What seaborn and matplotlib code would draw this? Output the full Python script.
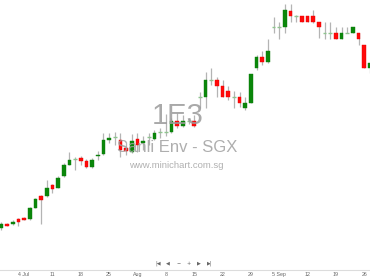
import numpy as np
import pandas as pd
import seaborn as sns
import matplotlib
matplotlib.use("Agg")
import matplotlib.pyplot as plt

# ---- data ----
dates = pd.bdate_range("2016-06-28", periods=66)
opens = [0.1117, 0.1160, 0.1160, 0.1207, 0.1220, 0.1207, 0.1323, 0.1437, 0.1440, 0.1547,
         0.1523, 0.1637, 0.1753, 0.1813, 0.1823, 0.1787, 0.1730, 0.1837, 0.1857, 0.2005,
         0.2027, 0.2005, 0.1917, 0.1877, 0.2010, 0.1970, 0.2027, 0.2013, 0.2083, 0.2083,
         0.2083, 0.2193, 0.2140, 0.2193, 0.2193, 0.2433, 0.2433, 0.2600, 0.2600, 0.2540,
         0.2487, 0.2427, 0.2427, 0.2317, 0.2367, 0.2720, 0.2833, 0.2780, 0.3127, 0.3127,
         0.3127, 0.3293, 0.3240, 0.3240, 0.3240, 0.3240, 0.3183, 0.3067, 0.3067, 0.3067,
         0.3007, 0.3067, 0.3067, 0.3067, 0.2950, 0.2717]
highs = [0.1177, 0.1167, 0.1200, 0.1217, 0.1235, 0.1333, 0.1423, 0.1450, 0.1600, 0.1563,
         0.1643, 0.1773, 0.1883, 0.1833, 0.1843, 0.1807, 0.1820, 0.1893, 0.2073, 0.2073,
         0.2083, 0.2067, 0.1980, 0.2065, 0.2067, 0.2040, 0.2070, 0.2100, 0.2120, 0.2260,
         0.2220, 0.2270, 0.2250, 0.2220, 0.2250, 0.2483, 0.2683, 0.2717, 0.2633, 0.2600,
         0.2540, 0.2493, 0.2483, 0.2433, 0.2665, 0.2850, 0.2893, 0.3007, 0.3233, 0.3183,
         0.3360, 0.3360, 0.3250, 0.3245, 0.3245, 0.3300, 0.3183, 0.3183, 0.3183, 0.3127,
         0.3127, 0.3127, 0.3127, 0.3067, 0.2950, 0.2773]
lows = [0.1103, 0.1137, 0.1150, 0.1140, 0.1200, 0.1200, 0.1317, 0.1157, 0.1433, 0.1467,
        0.1517, 0.1630, 0.1747, 0.1697, 0.1750, 0.1723, 0.1720, 0.1797, 0.1850, 0.1973,
        0.1950, 0.1833, 0.1850, 0.1870, 0.1880, 0.1900, 0.1950, 0.2000, 0.2020, 0.2040,
        0.2070, 0.2120, 0.2130, 0.2160, 0.2130, 0.2317, 0.2317, 0.2550, 0.2433, 0.2427,
        0.2400, 0.2317, 0.2333, 0.2300, 0.2367, 0.2700, 0.2750, 0.2770, 0.3067, 0.3007,
        0.3067, 0.3183, 0.3183, 0.3180, 0.3180, 0.3167, 0.3017, 0.3007, 0.3007, 0.3007,
        0.3007, 0.3067, 0.3067, 0.2950, 0.2717, 0.2667]
closes = [0.1157, 0.1143, 0.1180, 0.1183, 0.1203, 0.1323, 0.1407, 0.1397, 0.1520, 0.1510,
          0.1623, 0.1750, 0.1800, 0.1813, 0.1790, 0.1730, 0.1803, 0.1855, 0.1995, 0.2020,
          0.2027, 0.1900, 0.1890, 0.1993, 0.1955, 0.1990, 0.2027, 0.2073, 0.2083, 0.2083,
          0.2193, 0.2143, 0.2193, 0.2193, 0.2140, 0.2433, 0.2600, 0.2600, 0.2545, 0.2430,
          0.2433, 0.2427, 0.2370, 0.2367, 0.2660, 0.2833, 0.2780, 0.2893, 0.3127, 0.3127,
          0.3300, 0.3243, 0.3240, 0.3183, 0.3183, 0.3183, 0.3127, 0.3067, 0.3067, 0.3007,
          0.3067, 0.3067, 0.3127, 0.3007, 0.2717, 0.2773]
tick_labels = ["4 Jul", "11", "18", "25", "Aug", "8", "15", "22", "29", "5 Sep", "12", "19", "26"]
tick_dates = ["2016-07-04", "2016-07-11", "2016-07-18", "2016-07-25", "2016-08-01", "2016-08-08",
              "2016-08-15", "2016-08-22", "2016-08-29", "2016-09-05", "2016-09-12", "2016-09-19",
              "2016-09-26"]
symbol = "1E3"
name = "Sanli Env - SGX"
site = "www.minichart.com.sg"
nav_icons = ["|◀", "◀", "−", "+", "▶", "▶|"]

# ---- plotting ----
sns.set_theme(style="white")
plt.rcParams["font.family"] = ["Liberation Sans", "DejaVu Sans"]

df = pd.DataFrame({"date": dates, "open": opens, "high": highs, "low": lows, "close": closes})
df["idx"] = np.arange(len(df))
df["bottom"] = df[["open", "close"]].min(axis=1)
df["height"] = (df["close"] - df["open"]).abs()
up = df[df["close"] > df["open"]]
down = df[df["close"] < df["open"]]
flat = df[df["close"] == df["open"]]

W, H = 370, 278
fig = plt.figure(figsize=(W / 100, H / 100), dpi=100)
fig.patch.set_facecolor("white")
ax = fig.add_axes([0, (H - 269.5) / H, 1, 269.5 / H])
ax.set_facecolor("white")

ax.vlines(df["idx"], df["low"], df["high"], color="#b4b4b4", lw=0.9, zorder=1)
bw = 0.66
ax.bar(up["idx"], up["height"], bottom=up["bottom"], width=bw, color="#0a870a",
       edgecolor="#0a7a0a", lw=0.3, zorder=2)
ax.bar(down["idx"], down["height"], bottom=down["bottom"], width=bw, color="#ff0a0a",
       edgecolor="#e80000", lw=0.3, zorder=2)
ax.hlines(flat["open"], flat["idx"] - bw / 2, flat["idx"] + bw / 2, color="#8fc48f", lw=1.0, zorder=2)

ax.set_xlim(-0.247, 65.01)
ax.set_ylim(0.340 - 0.2695, 0.340)

pos = [int(np.where(df["date"] == pd.Timestamp(d))[0][0]) for d in tick_dates]
ax.set_xticks(pos)
ax.set_xticklabels(tick_labels, fontsize=3.8, color="#666666")
ax.tick_params(axis="x", length=0, pad=1.6)
ax.set_yticks([])
for s in ["top", "left", "right"]:
    ax.spines[s].set_visible(False)
ax.spines["bottom"].set_color("#dcdcdc")
ax.spines["bottom"].set_linewidth(0.8)

def fx(x):
    return x / W

def fy(y):
    return 1 - y / H

fig.text(fx(177.5), fy(115.5), symbol, fontsize=21, color="#9a9a9a", alpha=0.85,
         ha="center", va="center", zorder=5)
fig.text(fx(177.5), fy(148), name, fontsize=12, color="#a0a0a0", alpha=0.85,
         ha="center", va="center", zorder=5)
fig.text(fx(176), fy(166), site, fontsize=6.8, color="#a8a8a8", alpha=0.9,
         ha="center", va="center", zorder=5)

icon_x = [158.3, 168.3, 178.3, 188.3, 199.3, 209.3]
for ic, xx in zip(nav_icons, icon_x):
    fig.text(fx(xx), fy(263.3), ic, fontsize=3.6, color="#666666", ha="center", va="center",
             family=["DejaVu Sans"])

fig.savefig("out.png", dpi=100)
